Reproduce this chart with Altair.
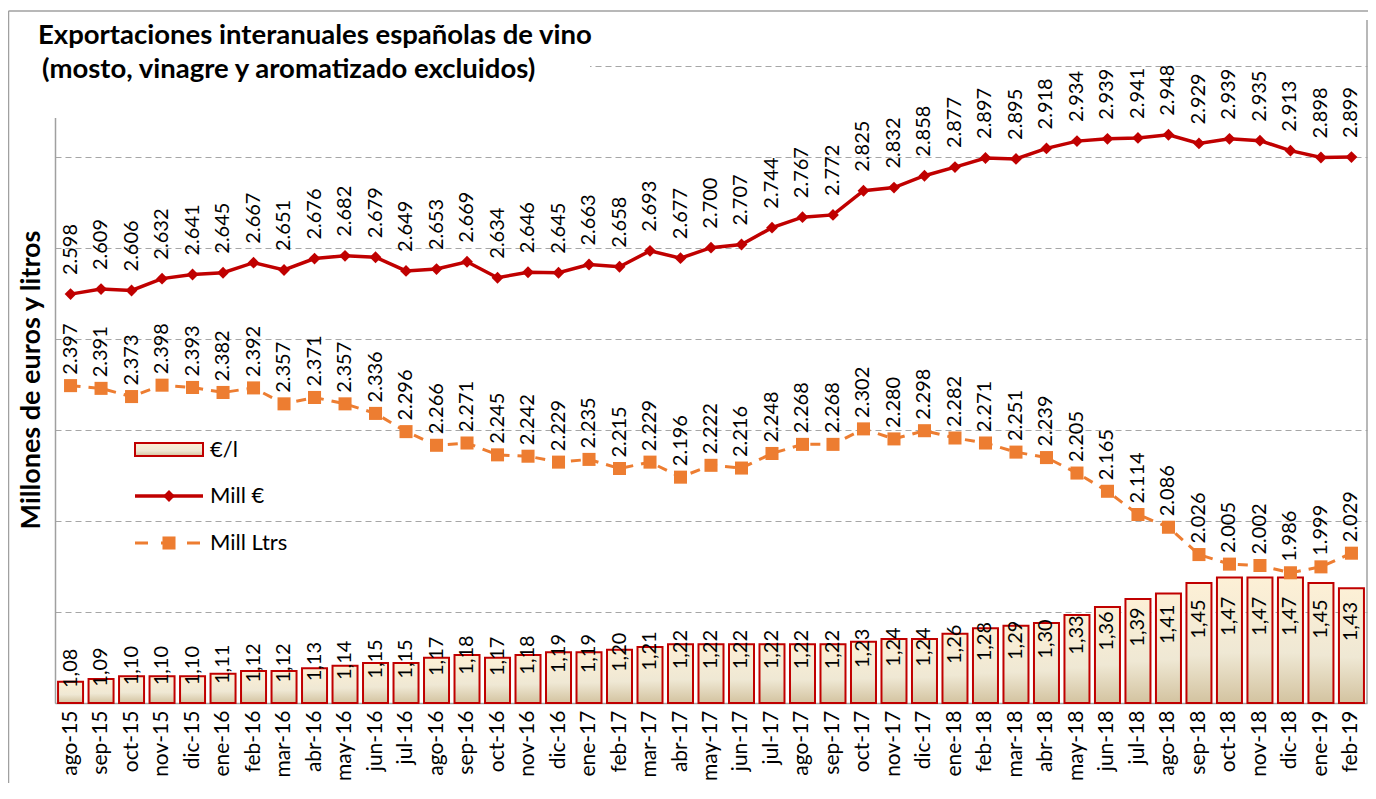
import altair as alt
import pandas as pd

months = ["ago-15", "sep-15", "oct-15", "nov-15", "dic-15", "ene-16", "feb-16", "mar-16", "abr-16",
          "may-16", "jun-16", "jul-16", "ago-16", "sep-16", "oct-16", "nov-16", "dic-16", "ene-17",
          "feb-17", "mar-17", "abr-17", "may-17", "jun-17", "jul-17", "ago-17", "sep-17", "oct-17",
          "nov-17", "dic-17", "ene-18", "feb-18", "mar-18", "abr-18", "may-18", "jun-18", "jul-18",
          "ago-18", "sep-18", "oct-18", "nov-18", "dic-18", "ene-19", "feb-19"]

price = [1.08, 1.09, 1.10, 1.10, 1.10, 1.11, 1.12, 1.12, 1.13, 1.14, 1.15, 1.15, 1.17, 1.18, 1.17,
         1.18, 1.19, 1.19, 1.20, 1.21, 1.22, 1.22, 1.22, 1.22, 1.22, 1.22, 1.23, 1.24, 1.24, 1.26,
         1.28, 1.29, 1.30, 1.33, 1.36, 1.39, 1.41, 1.45, 1.47, 1.47, 1.47, 1.45, 1.43]

mill_eur = [2598, 2609, 2606, 2632, 2641, 2645, 2667, 2651, 2676, 2682, 2679, 2649, 2653, 2669,
            2634, 2646, 2645, 2663, 2658, 2693, 2677, 2700, 2707, 2744, 2767, 2772, 2825, 2832,
            2858, 2877, 2897, 2895, 2918, 2934, 2939, 2941, 2948, 2929, 2939, 2935, 2913, 2898, 2899]

mill_ltrs = [2397, 2391, 2373, 2398, 2393, 2382, 2392, 2357, 2371, 2357, 2336, 2296, 2266, 2271,
             2245, 2242, 2229, 2235, 2215, 2229, 2196, 2222, 2216, 2248, 2268, 2268, 2302, 2280,
             2298, 2282, 2271, 2251, 2239, 2205, 2165, 2114, 2086, 2026, 2005, 2002, 1986, 1999, 2029]

grid_values = [1700, 1900, 2100, 2300, 2500, 2700, 2900, 3100]

title_1 = "Exportaciones interanuales españolas de vino"
title_2 = " (mosto, vinagre y aromatizado excluidos)"
y_title = "Millones de euros y litros"


def fmt_thousands(v):
    return f"{v:,}".replace(",", ".")


def fmt_dec(v):
    return f"{v:.2f}".replace(".", ",")


df = pd.DataFrame({
    "mes": months,
    "precio": price,
    "eur": mill_eur,
    "ltrs": mill_ltrs,
    "precio_lbl": [fmt_dec(v) for v in price],
    "eur_lbl": [fmt_thousands(v) for v in mill_eur],
    "ltrs_lbl": [fmt_thousands(v) for v in mill_ltrs],
})

W, H = 1312, 683
FONT = "Lato"
RED = "#C00000"
ORANGE = "#ED7D31"
GRAY = "#A0A0A0"
LBL = 20

bar_fill = alt.Gradient(
    gradient="linear",
    stops=[alt.GradientStop(color="#FDF0D6", offset=0),
           alt.GradientStop(color="#EFE8D4", offset=0.6),
           alt.GradientStop(color="#D3C3A0", offset=1)],
    x1=0, x2=0, y1=0, y2=1,
)

x_enc = alt.X(
    "mes:N", sort=months,
    scale=alt.Scale(paddingInner=0.18, paddingOuter=0.1),
    axis=alt.Axis(title=None, labelAngle=270, labelFontSize=21, labelFont=FONT,
                  labelColor="black", ticks=False, domainColor=GRAY, domainWidth=1.5,
                  labelPadding=7, grid=False),
)

money_scale = alt.Scale(domain=[1700, 3200], nice=False, zero=False)
bar_scale = alt.Scale(domain=[1.0, 3.56], nice=False, zero=False)

base = alt.Chart(df)

bars = base.mark_bar(fill=bar_fill, stroke=RED, strokeWidth=2).encode(
    x=x_enc,
    y=alt.Y("precio:Q", scale=bar_scale, axis=None),
    y2=alt.datum(1.0),
)

bar_labels = base.transform_calculate(mid="(1.0 + datum.precio) / 2").mark_text(
    angle=270, align="center", baseline="middle", dx=24, fontSize=LBL, font=FONT, color="black"
).encode(
    x=x_enc,
    y=alt.Y("mid:Q", scale=bar_scale, axis=None),
    text="precio_lbl:N",
)

eur_line = base.mark_line(color=RED, strokeWidth=3.5).encode(
    x=x_enc,
    y=alt.Y("eur:Q", scale=money_scale,
            axis=alt.Axis(values=grid_values, labels=False, ticks=False, title=None, grid=True,
                          gridDash=[6, 4], gridColor="#A6A6A6", gridWidth=1.2,
                          domainColor=GRAY, domainWidth=1.5)),
)
eur_pts = base.mark_point(shape="diamond", filled=True, size=140, color=RED, opacity=1).encode(
    x=x_enc, y=alt.Y("eur:Q", scale=money_scale, axis=None),
)
eur_labels = base.mark_text(angle=270, align="left", baseline="middle", dx=19, fontSize=LBL,
                            font=FONT, color="black").encode(
    x=x_enc, y=alt.Y("eur:Q", scale=money_scale, axis=None), text="eur_lbl:N",
)

ltrs_line = base.mark_line(color=ORANGE, strokeWidth=3, strokeDash=[10, 8]).encode(
    x=x_enc, y=alt.Y("ltrs:Q", scale=money_scale, axis=None),
)
ltrs_pts = base.mark_point(shape="square", filled=True, size=170, color=ORANGE, opacity=1).encode(
    x=x_enc, y=alt.Y("ltrs:Q", scale=money_scale, axis=None),
)
ltrs_labels = base.mark_text(angle=270, align="left", baseline="middle", dx=11, fontSize=LBL,
                             font=FONT, color="black").encode(
    x=x_enc, y=alt.Y("ltrs:Q", scale=money_scale, axis=None), text="ltrs_lbl:N",
)

one = alt.Chart(pd.DataFrame({"a": [0]}))

frame_top = one.mark_rule(color=GRAY, strokeWidth=1.5).encode(
    x=alt.value(-46.5), x2=alt.value(W + 10), y=alt.value(-9))
frame_left = one.mark_rule(color=GRAY, strokeWidth=1.5).encode(
    x=alt.value(-46.5), y=alt.value(-9), y2=alt.value(H + 120))
right_line = one.mark_rule(color=GRAY, strokeWidth=1.5).encode(
    x=alt.value(W), y=alt.value(0), y2=alt.value(H))

title_bg = one.mark_rect(fill="white").encode(
    x=alt.value(-25), x2=alt.value(535), y=alt.value(-7), y2=alt.value(98))
title_t1 = one.mark_text(align="left", baseline="middle", fontSize=27.5, fontWeight="bold",
                         font=FONT, color="black").encode(
    x=alt.value(-17), y=alt.value(16), text=alt.value(title_1))
title_t2 = one.mark_text(align="left", baseline="middle", fontSize=27.5, fontWeight="bold",
                         font=FONT, color="black").encode(
    x=alt.value(-13), y=alt.value(50), text=alt.value(title_2))
ytitle = one.mark_text(angle=270, align="center", baseline="middle", fontSize=27,
                       fontWeight="bold", font=FONT, color="black").encode(
    x=alt.value(-23), y=alt.value(360), text=alt.value(y_title))

LEG = 22
leg_rect = one.mark_rect(fill=bar_fill, stroke=RED, strokeWidth=2).encode(
    x=alt.value(80), x2=alt.value(148), y=alt.value(423), y2=alt.value(436))
leg_t1 = one.mark_text(align="left", baseline="middle", fontSize=LEG, font=FONT,
                       color="black").encode(x=alt.value(155), y=alt.value(430),
                                             text=alt.value("€/l"))
leg_line2 = one.mark_rule(color=RED, strokeWidth=3.5).encode(
    x=alt.value(80), x2=alt.value(148), y=alt.value(476))
leg_pt2 = one.mark_point(shape="diamond", filled=True, size=140, color=RED, opacity=1).encode(
    x=alt.value(114), y=alt.value(476))
leg_t2 = one.mark_text(align="left", baseline="middle", fontSize=LEG, font=FONT,
                       color="black").encode(x=alt.value(155), y=alt.value(476),
                                             text=alt.value("Mill €"))
leg_line3 = one.mark_rule(color=ORANGE, strokeWidth=3, strokeDash=[13, 13]).encode(
    x=alt.value(80), x2=alt.value(148), y=alt.value(523))
leg_pt3 = one.mark_point(shape="square", filled=True, size=170, color=ORANGE, opacity=1).encode(
    x=alt.value(114), y=alt.value(523))
leg_t3 = one.mark_text(align="left", baseline="middle", fontSize=LEG, font=FONT,
                       color="black").encode(x=alt.value(155), y=alt.value(523),
                                             text=alt.value("Mill Ltrs"))

chart = alt.layer(
    bars, eur_line, ltrs_line, eur_pts, ltrs_pts, bar_labels, eur_labels, ltrs_labels,
    frame_top, frame_left, right_line, title_bg, title_t1, title_t2, ytitle,
    leg_rect, leg_t1, leg_line2, leg_pt2, leg_t2, leg_line3, leg_pt3, leg_t3,
).resolve_scale(y="independent").properties(
    width=W, height=H,
    padding={"left": 47, "top": 12, "right": 1, "bottom": 80},
    autosize=alt.AutoSizeParams(type="none"),
).configure_view(stroke=None)

chart.save("out.html", embed_options={"renderer": "svg", "actions": False})
